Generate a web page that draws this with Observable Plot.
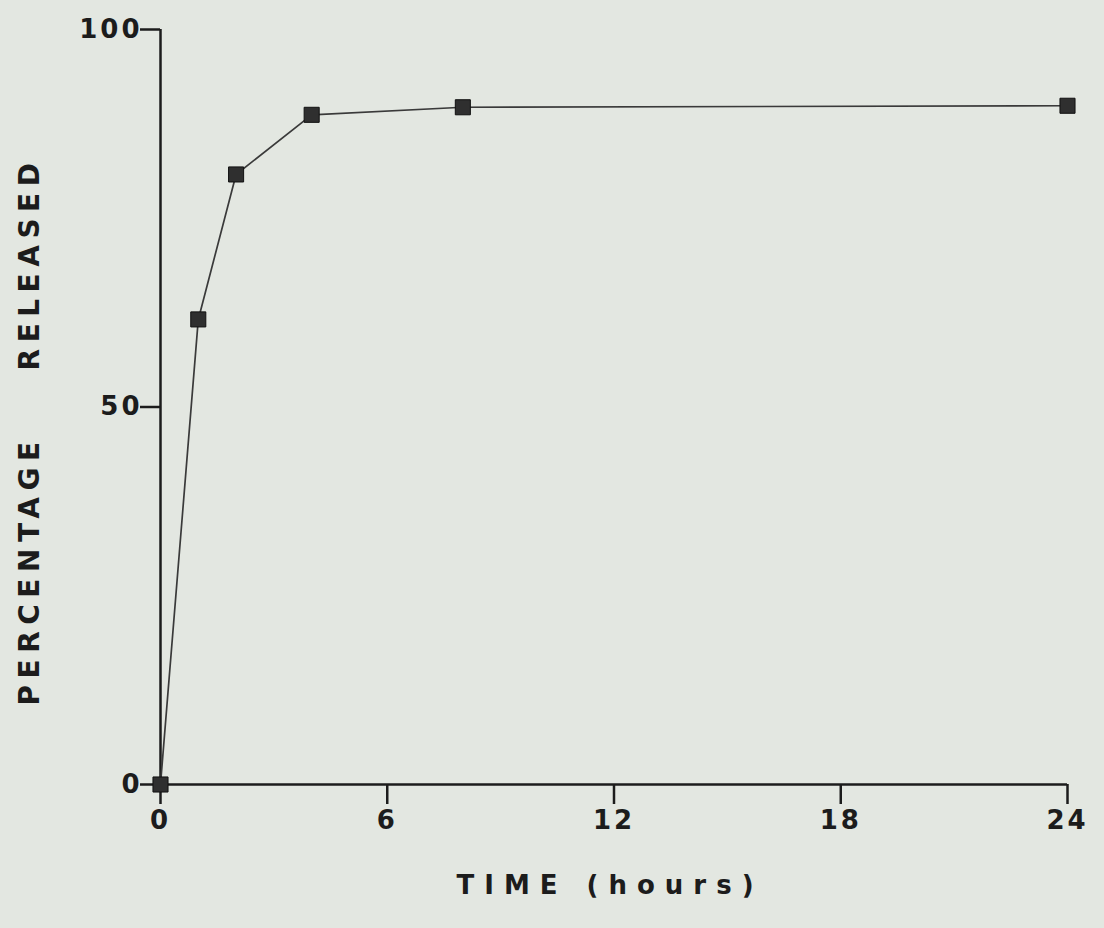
<!DOCTYPE html>
<html>
<head>
<meta charset="utf-8">
<script src="https://cdn.jsdelivr.net/npm/d3@7"></script>
<script src="https://cdn.jsdelivr.net/npm/@observablehq/plot@0.6"></script>
<style>
  html, body { margin: 0; padding: 0; background: #e3e7e1; }
  #chart svg { display: block; }
  #chart svg g[aria-label="x-axis tick label"] text,
  #chart svg g[aria-label="y-axis tick label"] text { letter-spacing: 3px; }
  #chart svg .xlab text { letter-spacing: 10px; }
  #chart svg .ylab text { letter-spacing: 6.5px; }
</style>
</head>
<body>
<div id="chart"></div>
<script>
const hours = [0, 1, 2, 4, 8, 24];
const released = [0, 61.6, 80.8, 88.7, 89.7, 89.9];
const xTicks = [0, 6, 12, 18, 24];
const yTicks = [0, 50, 100];
const xLabel = "TIME (hours)";
const yLabel = "PERCENTAGE\u00a0\u00a0\u00a0\u00a0RELEASED";

const data = hours.map((h, i) => ({hours: h, released: released[i]}));
const ink = "#1c1c1c";
const font = "'DejaVu Sans', sans-serif";

const chart = Plot.plot({
  width: 1104,
  height: 928,
  marginLeft: 160,
  marginRight: 37,
  marginTop: 29,
  marginBottom: 144,
  style: {background: "#e3e7e1", color: ink, fontFamily: font, fontSize: "26px", fontWeight: "bold"},
  x: {domain: [0, 24]},
  y: {domain: [0, 100]},
  marks: [
    Plot.ruleX([0], {y1: 0, y2: 100, stroke: ink, strokeWidth: 2.5}),
    Plot.ruleY([0], {x1: 0, x2: 24, stroke: ink, strokeWidth: 2.5}),
    Plot.axisX({ticks: xTicks, tickSize: 20, tickPadding: 6, label: null, stroke: ink, strokeWidth: 2.5, fontSize: 26, fontWeight: "bold", fill: ink}),
    Plot.axisY({ticks: yTicks, tickSize: 20, tickPadding: -2, label: null, stroke: ink, strokeWidth: 2.5, fontSize: 26, fontWeight: "bold", fill: ink}),
    Plot.line(data, {x: "hours", y: "released", stroke: "#3a3a3a", strokeWidth: 1.7}),
    Plot.dot(data, {x: "hours", y: "released", symbol: "square", r: 8.5, fill: "#2f2f2f", stroke: "#111", strokeWidth: 1}),
    Plot.text([xLabel], {className: "xlab", frameAnchor: "bottom", dy: 101, dx: -4, fontSize: 26, fontWeight: "bold", fill: ink, lineAnchor: "middle", textAnchor: "middle"}),
    Plot.text([yLabel], {className: "ylab", frameAnchor: "left", dx: -130, dy: 24, rotate: -90, fontSize: 28, fontWeight: "bold", fill: ink, lineAnchor: "middle", textAnchor: "middle"})
  ]
});
document.getElementById("chart").append(chart);
</script>
</body>
</html>
